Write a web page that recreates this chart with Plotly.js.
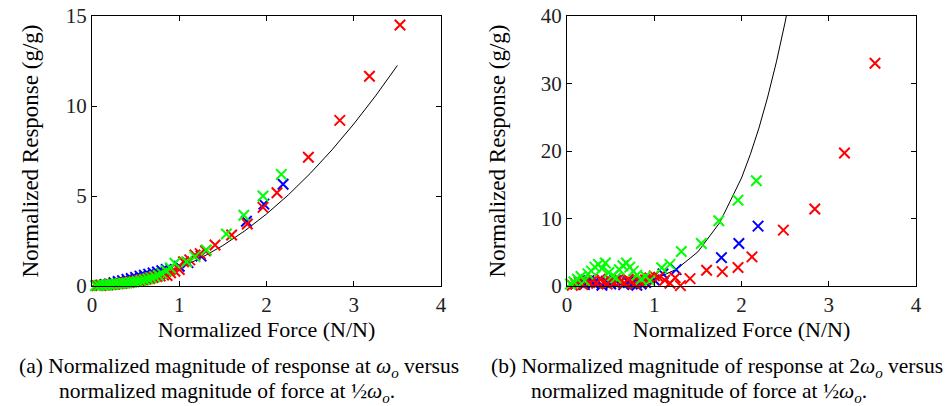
<!DOCTYPE html>
<html><head><meta charset="utf-8">
<script src="https://cdn.plot.ly/plotly-3.0.1.min.js"></script>
<style>html,body{margin:0;padding:0;background:#fff}#plot{width:945px;height:406px}</style>
</head><body><div id="plot"></div>
<script>
// ---- Data ----
// Red series (same forces in both panels)
const redX = [0.06,0.10,0.14,0.18,0.22,0.26,0.30,0.34,0.38,0.42,0.46,0.50,0.54,0.58,0.62,0.66,0.70,0.74,0.78,0.82,0.86,0.90,0.95,1.00,1.05,1.12,1.18,1.24,1.30,1.41,1.60,1.78,1.96,2.12,2.48,2.84,3.18,3.53];
const redA = [0.02,0.03,0.05,0.06,0.08,0.10,0.12,0.15,0.18,0.20,0.24,0.27,0.30,0.34,0.38,0.42,0.47,0.52,0.56,0.61,0.58,0.74,0.82,0.92,1.35,1.45,1.72,1.80,1.95,2.28,2.83,3.44,4.37,5.18,7.15,9.20,11.65,14.50];
const redB = [0.10,0.30,0.60,0.20,0.80,0.50,0.90,0.40,1.00,0.60,0.30,0.80,0.50,0.90,0.70,0.40,1.00,0.60,0.30,0.80,0.50,0.90,1.20,1.50,1.30,0.85,0.40,1.23,0.05,1.09,2.33,2.13,2.73,4.31,8.28,11.40,19.70,33.00];
// Blue series
const blueX = [0.10,0.15,0.20,0.25,0.30,0.35,0.40,0.45,0.50,0.55,0.60,0.65,0.70,0.75,0.80,0.85,0.90,1.00,1.10,1.25,1.77,1.97,2.19];
const blueA = [0.05,0.08,0.12,0.18,0.25,0.30,0.37,0.42,0.48,0.55,0.60,0.66,0.72,0.78,0.85,0.92,0.98,1.10,1.30,1.67,3.60,4.55,5.65];
const blueB = [0.30,0.50,0.20,0.80,0.40,0.60,0.10,0.70,0.30,0.90,0.50,0.20,0.60,0.40,0.10,0.30,0.50,0.90,1.80,2.43,4.20,6.30,8.87];
// Green series
const greenX = [0.04,0.08,0.12,0.16,0.20,0.24,0.28,0.32,0.36,0.40,0.44,0.48,0.52,0.56,0.60,0.64,0.68,0.72,0.76,0.80,0.85,0.90,0.95,1.085,1.18,1.31,1.54,1.74,1.96,2.17];
const greenA = [0.02,0.03,0.05,0.06,0.08,0.10,0.12,0.13,0.15,0.17,0.20,0.22,0.25,0.30,0.35,0.40,0.45,0.52,0.60,0.70,0.85,1.00,1.26,1.35,1.63,2.00,2.89,3.93,5.00,6.20];
const greenB = [0.30,0.60,1.00,1.40,0.80,1.80,2.20,2.80,3.20,2.60,3.40,2.00,1.50,1.20,2.40,3.00,3.40,2.80,2.20,1.60,1.00,1.40,0.80,2.70,3.20,5.10,6.30,9.67,12.70,15.60];
// Model curves
const curveAX = [0,0.25,0.5,0.75,1.0,1.25,1.5,1.75,2.0,2.25,2.5,2.75,3.0,3.25,3.5];
const curveAY = [0,0.06,0.25,0.56,1.0,1.56,2.25,3.06,4.0,5.06,6.25,7.56,9.0,10.56,12.25];
const curveBX = [0,0.25,0.5,0.75,1.0,1.25,1.5,1.75,2.0,2.1,2.2,2.3,2.4,2.5,2.6];
const curveBY = [0,0.004,0.06,0.32,1.0,2.44,5.06,9.38,16.0,19.45,23.4,28.0,33.2,39.1,45.7];
const xTicks = [0,1,2,3,4];
const yTicksA = [0,5,10,15];
const yTicksB = [0,10,20,30,40];

const serif = 'Times New Roman';
function mk(color){return {symbol:'x-thin-open', size:10.5, color:color, line:{color:color, width:2}};}
function pts(x,y,color,xa,ya){return {type:'scatter',mode:'markers',x:x,y:y,xaxis:xa,yaxis:ya,marker:mk(color),cliponaxis:false,hoverinfo:'skip'};}
function crv(x,y,xa,ya){return {type:'scatter',mode:'lines',x:x,y:y,xaxis:xa,yaxis:ya,line:{color:'#000',width:1},hoverinfo:'skip'};}

const data = [
  crv(curveAX,curveAY,'x','y'),
  pts(blueX,blueA,'#0000ff','x','y'),
  pts(redX,redA,'#ff0000','x','y'),
  pts(greenX,greenA,'#00ff00','x','y'),
  crv(curveBX,curveBY,'x2','y2'),
  pts(blueX,blueB,'#0000ff','x2','y2'),
  pts(redX,redB,'#ff0000','x2','y2'),
  pts(greenX,greenB,'#00ff00','x2','y2')
];

function ax(extra){return Object.assign({showline:true, mirror:'ticks', linecolor:'#000', linewidth:1, ticks:'inside', ticklen:5, tickcolor:'#000', showgrid:false, zeroline:false, tickfont:{family:serif,size:21,color:'#222'}, fixedrange:true}, extra);}
const yDom = [1-286/406, 1-16/406];
const xf = {family:serif,size:22,color:'#000'};
const yf = {family:serif,size:23,color:'#000'};
const cf = {family:serif,size:21.5,color:'#000'};
const layout = {
  width:945, height:406, margin:{l:0,r:0,t:0,b:0}, paper_bgcolor:'#fff', plot_bgcolor:'#fff', showlegend:false,
  font:{family:serif},
  xaxis: ax({domain:[92/945,441/945], range:[0,4], tickvals:xTicks, anchor:'y', title:{text:'Normalized Force (N/N)', font:xf, standoff:5}}),
  yaxis: ax({domain:yDom, range:[0,15], tickvals:yTicksA, anchor:'x', title:{text:'Normalized Response (g/g)', font:yf, standoff:20}}),
  xaxis2: ax({domain:[567/945,916/945], range:[0,4], tickvals:xTicks, anchor:'y2', title:{text:'Normalized Force (N/N)', font:xf, standoff:5}}),
  yaxis2: ax({domain:yDom, range:[0,40], tickvals:yTicksB, anchor:'x2', title:{text:'Normalized Response (g/g)', font:yf, standoff:28}}),
  annotations: [
    {xref:'paper',yref:'paper',x:17/945,y:1-367/406,xanchor:'left',yanchor:'middle',showarrow:false,text:'(a) Normalized magnitude of response at <i>ω<sub>o</sub></i> versus',font:cf},
    {xref:'paper',yref:'paper',x:57/945,y:1-392/406,xanchor:'left',yanchor:'middle',showarrow:false,text:'normalized magnitude of force at ½<i>ω<sub>o</sub></i>.',font:cf},
    {xref:'paper',yref:'paper',x:489/945,y:1-367/406,xanchor:'left',yanchor:'middle',showarrow:false,text:'(b) Normalized magnitude of response at 2<i>ω<sub>o</sub></i> versus',font:cf},
    {xref:'paper',yref:'paper',x:529/945,y:1-392/406,xanchor:'left',yanchor:'middle',showarrow:false,text:'normalized magnitude of force at ½<i>ω<sub>o</sub></i>.',font:cf}
  ]
};
Plotly.newPlot('plot', data, layout, {staticPlot:true, displayModeBar:false});
</script>
</body></html>
